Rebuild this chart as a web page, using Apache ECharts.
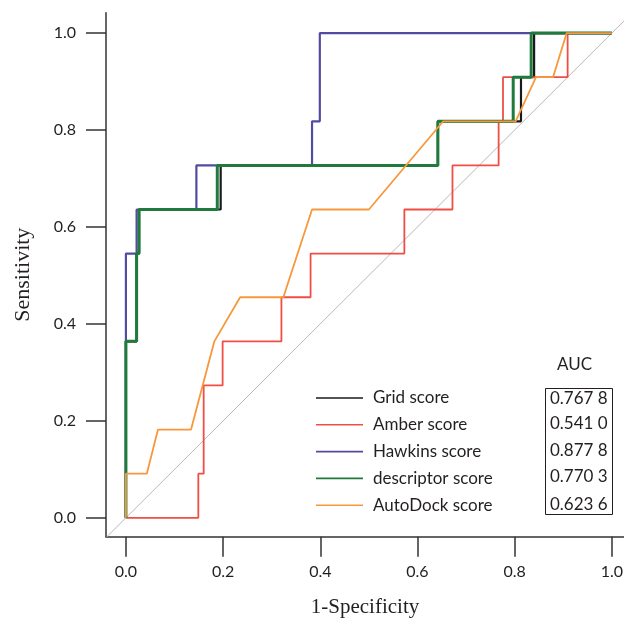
<!DOCTYPE html>
<html>
<head>
<meta charset="utf-8">
<script src="https://cdn.jsdelivr.net/npm/echarts@6/dist/echarts.min.js"></script>
<style>html,body{margin:0;padding:0;background:#fff;}#c{width:624px;height:619px;}</style>
</head>
<body>
<div id="c"></div>
<script>
// ---- data ----
var seriesNames = ['Grid score', 'Amber score', 'Hawkins score', 'descriptor score', 'AutoDock score'];
var aucValues = ['0.767 8', '0.541 0', '0.877 8', '0.770 3', '0.623 6'];
var tickValues = [0, 0.2, 0.4, 0.6, 0.8, 1.0];

var gridPts = [[0,0],[0,0.364],[0.022,0.364],[0.022,0.545],[0.027,0.545],[0.027,0.636],[0.195,0.636],[0.195,0.727],[0.642,0.727],[0.642,0.818],[0.813,0.818],[0.813,0.909],[0.840,0.909],[0.840,1],[1,1]];
var amberPts = [[0,0],[0.149,0],[0.149,0.091],[0.160,0.091],[0.160,0.273],[0.199,0.273],[0.199,0.364],[0.320,0.364],[0.320,0.455],[0.380,0.455],[0.380,0.545],[0.573,0.545],[0.573,0.636],[0.672,0.636],[0.672,0.727],[0.767,0.727],[0.767,0.818],[0.776,0.818],[0.776,0.909],[0.909,0.909],[0.909,1],[1,1]];
var hawkinsPts = [[0,0],[0,0.545],[0.022,0.545],[0.022,0.636],[0.145,0.636],[0.145,0.727],[0.383,0.727],[0.383,0.818],[0.399,0.818],[0.399,1],[1,1]];
var descriptorPts = [[0,0],[0,0.364],[0.022,0.364],[0.022,0.545],[0.027,0.545],[0.027,0.636],[0.188,0.636],[0.188,0.727],[0.642,0.727],[0.642,0.818],[0.797,0.818],[0.797,0.909],[0.834,0.909],[0.834,1],[1,1]];
var autodockPts = [[0,0],[0,0.091],[0.043,0.091],[0.066,0.182],[0.134,0.182],[0.182,0.364],[0.235,0.455],[0.324,0.455],[0.383,0.636],[0.500,0.636],[0.653,0.818],[0.802,0.818],[0.844,0.909],[0.879,0.909],[0.907,1],[1,1]];
var diagonalPts = [[-0.041,-0.041],[1.025,1.025]];

var colors = {grid:'#1a1a1a', amber:'#f04e45', hawkins:'#524ba0', descriptor:'#1f7a3c', autodock:'#f7983c'};
var txt = '#231f20';

var chart = echarts.init(document.getElementById('c'));

function lineSeries(name, data, color, width) {
  return {
    name: name, type: 'line', data: data, symbol: 'none', animation: false,
    lineStyle: {color: color, width: width}, itemStyle: {color: color}
  };
}

var rowY = [398.3, 424, 450.6, 477, 504.5];
var graphics = [
  {type:'text', left: 557, top: 356, style:{text:'AUC', fill: txt, font: '17px Lato'}},
  {type:'rect', shape:{x:545.5, y:388.5, width:67, height:126}, style:{fill:'none', stroke:'#231f20', lineWidth:1}}
];
aucValues.forEach(function (v, i) {
  graphics.push({type:'text', x: 550, y: rowY[i], style:{text: v, fill: txt, font: '17px Lato', verticalAlign:'middle'}});
});

chart.setOption({
  animation: false,
  backgroundColor: '#fff',
  grid: {left: 106, right: 0, top: 12.7, bottom: 82.3, outerBoundsMode: 'none', containLabel: false},
  xAxis: {
    type: 'value', min: -0.041, max: 1.025,
    name: '1-Specificity', nameLocation: 'middle', nameGap: 60,
    nameTextStyle: {fontFamily: 'Liberation Serif', fontSize: 21, color: txt},
    axisLine: {show: true, onZero: false, lineStyle: {color: '#333', width: 1.5}},
    axisTick: {show: true, length: 20, customValues: tickValues, lineStyle: {color: '#333', width: 1.5}},
    axisLabel: {customValues: tickValues, margin: 27, fontFamily: 'Lato', fontSize: 16, color: txt,
      formatter: function (v) { return v.toFixed(1); }},
    splitLine: {show: false}
  },
  yAxis: {
    type: 'value', min: -0.039, max: 1.042,
    name: 'Sensitivity', nameLocation: 'middle', nameGap: 72,
    nameTextStyle: {fontFamily: 'Liberation Serif', fontSize: 22, color: txt},
    axisLine: {show: true, onZero: false, lineStyle: {color: '#333', width: 1.5}},
    axisTick: {show: true, length: 20, customValues: tickValues, lineStyle: {color: '#333', width: 1.5}},
    axisLabel: {customValues: tickValues, margin: 30, fontFamily: 'Lato', fontSize: 16, color: txt,
      formatter: function (v) { return v.toFixed(1); }},
    splitLine: {show: false}
  },
  legend: {
    data: seriesNames, orient: 'vertical', left: 316, top: 389.5, padding: 0,
    icon: 'rect', itemWidth: 47, itemHeight: 1.6, itemGap: 9.8,
    textStyle: {fontFamily: 'Lato', fontSize: 17, color: txt, padding: [0,0,0,5]},
    selectedMode: false
  },
  graphic: graphics,
  series: [
    {type:'line', data: diagonalPts, symbol:'none', silent:true, lineStyle:{color:'#b8b8b8', width:1}, clip: true},
    lineSeries(seriesNames[2], hawkinsPts, colors.hawkins, 2.2),
    lineSeries(seriesNames[0], gridPts, colors.grid, 2.2),
    lineSeries(seriesNames[1], amberPts, colors.amber, 1.8),
    lineSeries(seriesNames[3], descriptorPts, colors.descriptor, 3),
    lineSeries(seriesNames[4], autodockPts, colors.autodock, 1.8)
  ]
});
</script>
</body>
</html>
